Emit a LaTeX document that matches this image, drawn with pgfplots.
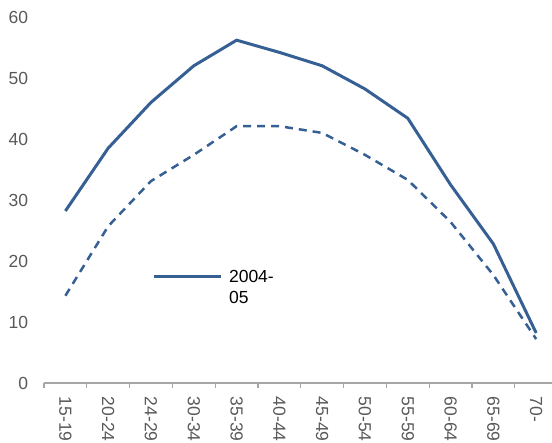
\documentclass[border=0pt]{standalone}
\usepackage{fontspec}
\setmainfont{Liberation Sans}
\usepackage{pgfplots}
\pgfplotsset{compat=1.18}
\definecolor{lineblue}{RGB}{54,96,148}
\definecolor{axgray}{RGB}{166,166,166}
\definecolor{txtgray}{RGB}{89,89,89}
\begin{document}
\begin{tikzpicture}
\begin{axis}[
  at={(0,0)}, anchor=south west,
  scale only axis, width=508pt, height=366pt,
  xmin=-0.5, xmax=11.37, ymin=0, ymax=60,
  clip=false,
  axis x line*=bottom, axis y line*=left,
  y axis line style={draw=none},
  x axis line style={draw=axgray, line width=1.2pt, -},
  ytick={0,10,...,60},
  ytick style={draw=none},
  yticklabel style={font=\fontsize{17.5}{20}\selectfont, text=txtgray, xshift=-8pt},
  xtick={0,...,11},
  xticklabels={15-19,20-24,24-29,30-34,35-39,40-44,45-49,50-54,55-59,60-64,65-69,70-},
  xticklabel style={font=\fontsize{17.5}{20}\selectfont, text=txtgray, rotate=-90, anchor=west},
  xticklabel shift={6pt},
  major x tick style={draw=none},
  minor xtick={-0.5,0.5,...,10.5},
  minor x tick style={draw=axgray, line width=1.2pt},
  minor tick length=5pt,
  tick align=outside,
  /pgf/number format/assume math mode=true,
  legend style={draw=none, fill=none, at={(axis cs:2.02,18.9)}, anchor=north west, inner sep=0pt,
    font=\fontsize{17.5}{21}\selectfont, nodes={align=left}, /tikz/column sep=5pt},
  legend cell align=left,
  legend image code/.code={\draw[#1] (0pt,10.5pt) -- (67pt,10.5pt);},
]
\addplot[lineblue, line width=3pt] coordinates {
(0,28.2) (1,38.5) (2,46) (3,52) (4,56.2) (5,54.2) (6,52) (7,48.2) (8,43.4) (9,32.5) (10,22.8) (11,8.2)};
\addlegendentry{2004-\\05}
\addplot[lineblue, line width=2.5pt, dash pattern=on 8pt off 6pt, forget plot] coordinates {
(0,14.3) (1,25.7) (2,33.1) (3,37.4) (4,42.1) (5,42.1) (6,41) (7,37.4) (8,33.3) (9,26.4) (10,17.7) (11,7.2)};
\end{axis}
\pgfresetboundingbox
\path (-44pt,-60pt) rectangle (508pt,383pt);
\end{tikzpicture}
\end{document}
